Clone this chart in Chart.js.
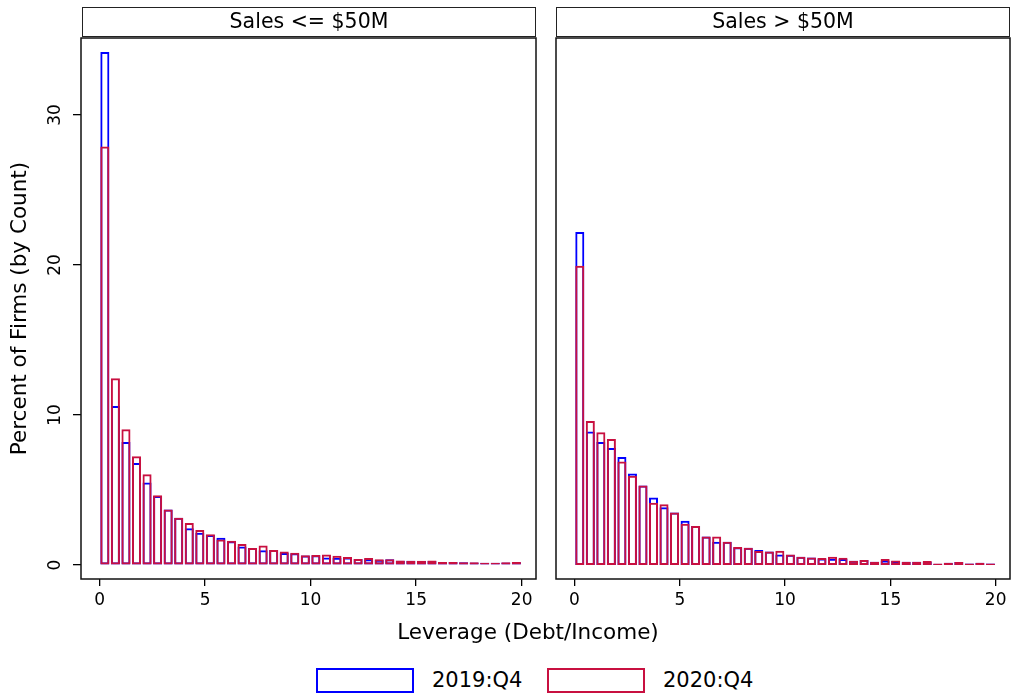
<!DOCTYPE html>
<html>
<head>
<meta charset="utf-8">
<script src="https://cdn.jsdelivr.net/npm/chart.js@4.4.1/dist/chart.umd.min.js"></script>
<style>
  body { margin: 0; background: #fff; font-family: "DejaVu Sans", sans-serif; color: #000; }
  #wrap { position: relative; width: 1013px; height: 696px; overflow: hidden; }
  canvas { position: absolute; top: 0; }
  .header { position: absolute; top: 7px; height: 30px; width: 454px; box-sizing: border-box;
            border: 1.5px solid #222; text-align: center; font-size: 20.5px; line-height: 27px; }
  #xtitle { position: absolute; top: 619px; left: 278px; width: 500px; text-align: center; font-size: 21.5px; }
  .legbox { position: absolute; top: 668px; width: 98px; height: 25px; box-sizing: border-box; border: 2px solid; }
  .leglabel { position: absolute; top: 667px; font-size: 21px; line-height: 26px; }
</style>
</head>
<body>
<div id="wrap">
  <canvas id="leftChart" width="546" height="620" style="left:0"></canvas>
  <canvas id="rightChart" width="467" height="620" style="left:546px"></canvas>
  <div class="header" style="left:82px">Sales &lt;= $50M</div>
  <div class="header" style="left:556px">Sales &gt; $50M</div>
  <div id="xtitle">Leverage (Debt/Income)</div>
  <div class="legbox" id="box2019" style="left:316px"></div>
  <div class="leglabel" id="lab2019" style="left:432px"></div>
  <div class="legbox" id="box2020" style="left:547px"></div>
  <div class="leglabel" id="lab2020" style="left:663px"></div>
</div>
<script>
    // Data
    const binMids = [0.25, 0.75, 1.25, 1.75, 2.25, 2.75, 3.25, 3.75, 4.25, 4.75,
                     5.25, 5.75, 6.25, 6.75, 7.25, 7.75, 8.25, 8.75, 9.25, 9.75,
                     10.25, 10.75, 11.25, 11.75, 12.25, 12.75, 13.25, 13.75, 14.25, 14.75,
                     15.25, 15.75, 16.25, 16.75, 17.25, 17.75, 18.25, 18.75, 19.25, 19.75];
    const xTicks = [0, 5, 10, 15, 20];
    const yTicks = [0, 10, 20, 30];
    const seriesNames = ['2019:Q4', '2020:Q4'];

    const small2019 = [34.2, 10.6, 8.2, 6.8, 5.5, 4.6, 3.7, 3.15, 2.45, 2.15,
                       2.0, 1.82, 1.58, 1.24, 1.13, 0.98, 1.0, 0.8, 0.78, 0.64,
                       0.65, 0.51, 0.49, 0.5, 0.4, 0.38, 0.36, 0.38, 0.29, 0.29,
                       0.27, 0.27, 0.2, 0.2, 0.18, 0.17, 0.16, 0.15, 0.17, 0.19];
    const small2020 = [27.9, 12.45, 9.05, 7.25, 6.05, 4.65, 3.7, 3.15, 2.8, 2.33,
                       2.05, 1.7, 1.62, 1.4, 1.14, 1.3, 1.0, 0.9, 0.82, 0.65,
                       0.67, 0.71, 0.62, 0.53, 0.41, 0.47, 0.38, 0.38, 0.3, 0.29,
                       0.28, 0.31, 0.21, 0.2, 0.18, 0.18, 0.16, 0.16, 0.18, 0.2];
    const large2019 = [22.2, 8.9, 8.2, 7.8, 7.2, 6.1, 5.3, 4.5, 3.85, 3.5,
                       2.95, 2.6, 1.9, 1.55, 1.55, 1.18, 1.15, 1.0, 0.9, 0.7,
                       0.69, 0.56, 0.5, 0.44, 0.42, 0.4, 0.29, 0.33, 0.22, 0.31,
                       0.27, 0.22, 0.22, 0.22, 0.09, 0.16, 0.2, 0.11, 0.16, 0.11];
    const large2020 = [19.95, 9.6, 8.85, 8.4, 6.9, 5.95, 5.3, 4.15, 4.05, 3.5,
                       2.75, 2.6, 1.9, 1.9, 1.55, 1.2, 1.15, 0.93, 0.91, 0.96,
                       0.71, 0.56, 0.51, 0.47, 0.56, 0.49, 0.29, 0.33, 0.22, 0.4,
                       0.31, 0.22, 0.22, 0.27, 0.11, 0.16, 0.2, 0.11, 0.16, 0.11];

    const BLUE = 'rgb(0, 0, 255)';
    const RED = 'rgb(200, 16, 64)';
    const FONT = 'DejaVu Sans';

    // Legend
    document.getElementById('box2019').style.borderColor = BLUE;
    document.getElementById('box2020').style.borderColor = RED;
    document.getElementById('lab2019').textContent = seriesNames[0];
    document.getElementById('lab2020').textContent = seriesNames[1];

    // Box round the plot area
    const framePlugin = {
        id: 'frame',
        afterDraw(chart) {
            const { ctx, chartArea: a } = chart;
            ctx.save();
            ctx.strokeStyle = '#111';
            ctx.lineWidth = 1.5;
            ctx.strokeRect(a.left, a.top, a.right - a.left, a.bottom - a.top);
            ctx.restore();
        }
    };

    function makeChart(id, data2019, data2020, withY) {
        const ctx = document.getElementById(id).getContext('2d');
        return new Chart(ctx, {
            type: 'bar',
            data: {
                labels: binMids,
                datasets: [
                    {
                        label: seriesNames[0],
                        data: data2019,
                        borderColor: BLUE,
                        backgroundColor: 'rgba(0,0,0,0)',
                        order: 1
                    },
                    {
                        label: seriesNames[1],
                        data: data2020,
                        borderColor: RED,
                        backgroundColor: 'rgba(0,0,0,0)',
                        order: 0
                    }
                ]
            },
            options: {
                responsive: false,
                animation: false,
                devicePixelRatio: 1,
                layout: { padding: { top: 38, right: withY ? 10 : 3, left: withY ? 0 : 10, bottom: 0 } },
                datasets: {
                    bar: {
                        grouped: false,
                        borderWidth: 2,
                        borderSkipped: false,
                        categoryPercentage: 1,
                        barPercentage: 0.86
                    }
                },
                scales: {
                    x: {
                        type: 'linear',
                        offset: false,
                        min: -0.88,
                        max: 20.68,
                        afterBuildTicks: s => { s.ticks = xTicks.map(v => ({ value: v })); },
                        afterFit: s => { s.height = 41; },
                        border: { display: false },
                        grid: { offset: false, drawOnChartArea: false, drawTicks: true, tickLength: 7, color: '#000', lineWidth: 1.3 },
                        ticks: { color: '#000', font: { family: FONT, size: 17 }, padding: 4, maxRotation: 0, autoSkip: false }
                    },
                    y: {
                        display: withY,
                        min: -0.93,
                        max: 35.13,
                        afterBuildTicks: s => { s.ticks = yTicks.map(v => ({ value: v })); },
                        afterFit: s => { if (withY) s.width = 81; },
                        border: { display: false },
                        grid: { drawOnChartArea: false, drawTicks: true, tickLength: 8, color: '#000', lineWidth: 1.3 },
                        ticks: { color: '#000', font: { family: FONT, size: 17 }, padding: 7,
                                 minRotation: 90, maxRotation: 90, crossAlign: 'center' },
                        title: { display: true, text: 'Percent of Firms (by Count)', color: '#000',
                                 font: { family: FONT, size: 21.5 }, padding: { top: 8, bottom: 0 } }
                    }
                },
                plugins: {
                    legend: { display: false },
                    tooltip: { enabled: false }
                }
            },
            plugins: [framePlugin]
        });
    }

    makeChart('leftChart', small2019, small2020, true);
    makeChart('rightChart', large2019, large2020, false);
</script>
</body>
</html>
